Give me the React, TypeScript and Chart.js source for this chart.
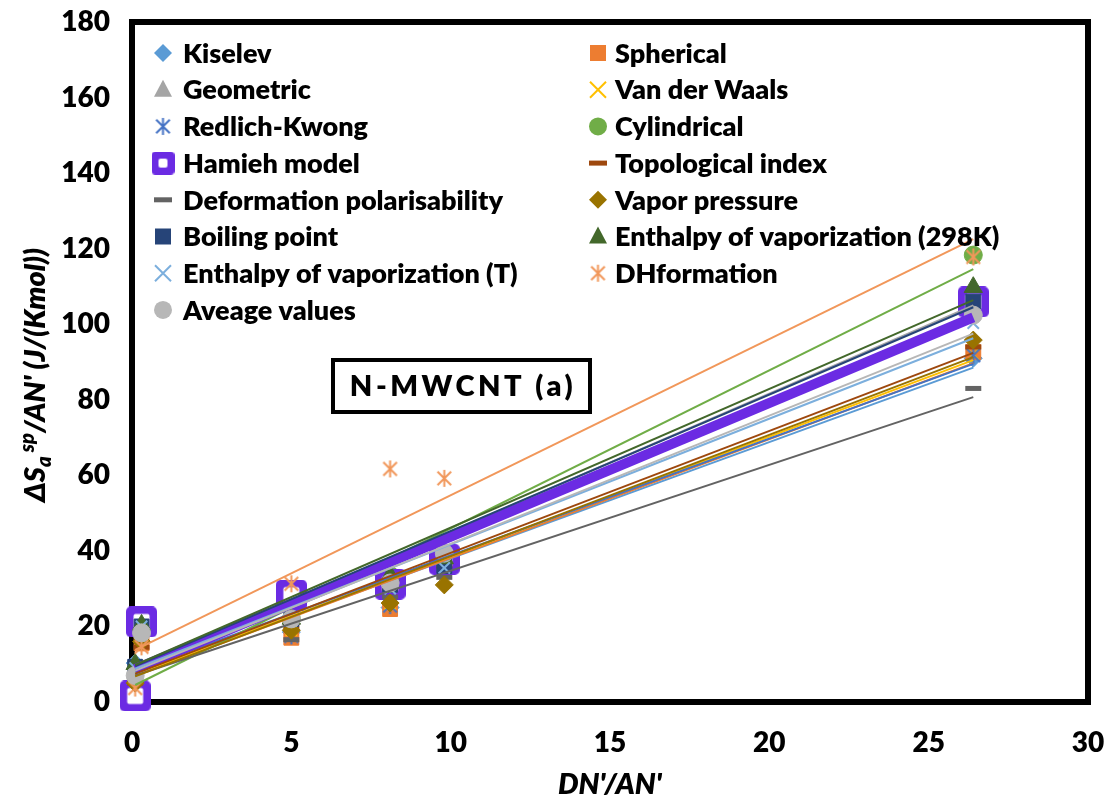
import React, { useEffect, useRef } from 'react';
import { Chart, registerables } from 'chart.js';
Chart.register(...registerables);

// ---------------- DATA ----------------
const xValues = [0.1, 0.3, 5.0, 8.1, 9.8, 26.4];
const xTickValues = [0, 5, 10, 15, 20, 25, 30];
const yTickValues = [0, 20, 40, 60, 80, 100, 120, 140, 160, 180];

const seriesNames = [
  'Kiselev', 'Spherical', 'Geometric', 'Van der Waals', 'Redlich-Kwong', 'Cylindrical',
  'Hamieh model', 'Topological index', 'Deformation polarisability', 'Vapor pressure',
  'Boiling point', 'Enthalpy of vaporization (298K)', 'Enthalpy of vaporization (T)',
  'DHformation', 'Aveage values',
];

const kiselevValues = [10.3, 20.6, 18.5, 25.0, 36.0, 91.0];
const sphericalValues = [3.5, 15.5, 17.0, 24.6, 36.0, 92.6];
const geometricValues = [10.0, 20.0, 22.0, 32.0, 38.0, 106.0];
const vanDerWaalsValues = [4.0, 15.5, 19.0, 26.0, 35.0, 92.0];
const redlichKwongValues = [9.5, 20.0, 17.5, 25.5, 36.0, 91.8];
const cylindricalValues = [2.4, 20.0, 22.0, 33.5, 38.0, 118.3];
const hamiehValues = [1.6, 21.2, 28.3, 31.2, 37.8, 105.9];
const topologicalValues = [5.0, 14.5, 19.6, 30.0, 36.0, 94.0];
const deformationValues = [6.0, 18.0, 16.5, 27.8, 33.0, 83.0];
const vaporPressureValues = [5.0, 16.0, 19.0, 26.2, 31.0, 95.8];
const boilingPointValues = [9.3, 20.0, 22.0, 31.0, 36.0, 106.0];
const enthalpy298Values = [10.0, 20.4, 22.0, 33.5, 38.0, 109.8];
const enthalpyTValues = [9.0, 20.0, 21.5, 30.0, 35.5, 100.3];
const dhFormationValues = [3.7, 14.6, 31.3, 61.7, 59.2, 117.8];
const averageValues = [7.0, 18.3, 22.0, 31.5, 39.4, 102.4];

// linear trend lines: value at first and last x
const trendX = [0.1, 26.4];
const trendStart = [7.5, 7.0, 9.0, 7.2, 8.2, 4.5, 8.7, 7.5, 7.0, 6.8, 9.5, 9.8, 8.8, 13.8, 8.3];
const trendEnd = [88.5, 89.7, 105.0, 90.5, 89.5, 114.6, 101.8, 92.4, 80.7, 91.3, 104.5, 106.4, 96.3, 122.5, 97.5];

const seriesValues = [
  kiselevValues, sphericalValues, geometricValues, vanDerWaalsValues, redlichKwongValues,
  cylindricalValues, hamiehValues, topologicalValues, deformationValues, vaporPressureValues,
  boilingPointValues, enthalpy298Values, enthalpyTValues, dhFormationValues, averageValues,
];

// ---------------- STYLE ----------------
type Shape = 'diamond' | 'square' | 'triangle' | 'x' | 'star' | 'circle' | 'hamieh' | 'dash';
const seriesStyles: { shape: Shape; color: string }[] = [
  { shape: 'diamond', color: '#5B9BD5' },
  { shape: 'square', color: '#ED7D31' },
  { shape: 'triangle', color: '#A5A5A5' },
  { shape: 'x', color: '#FFC000' },
  { shape: 'star', color: '#4472C4' },
  { shape: 'circle', color: '#70AD47' },
  { shape: 'hamieh', color: '#6B2BE3' },
  { shape: 'dash', color: '#9E480E' },
  { shape: 'dash', color: '#636363' },
  { shape: 'diamond', color: '#997300' },
  { shape: 'square', color: '#264478' },
  { shape: 'triangle', color: '#43682B' },
  { shape: 'x', color: '#7CAFDD' },
  { shape: 'star', color: '#F1975A' },
  { shape: 'circle', color: '#B7B7B7' },
];

const FONT = 'Lato, "Open Sans", sans-serif';
const WEIGHT = '800';

function makeStar(color: string, size: number, lw: number) {
  const c = document.createElement('canvas');
  c.width = size;
  c.height = size;
  const g = c.getContext('2d')!;
  g.strokeStyle = color;
  g.lineWidth = lw;
  const h = size / 2;
  const r = h - 1;
  const d = r * 0.8;
  g.beginPath();
  g.moveTo(h, h - r);
  g.lineTo(h, h + r);
  g.moveTo(h - d, h - d);
  g.lineTo(h + d, h + d);
  g.moveTo(h + d, h - d);
  g.lineTo(h - d, h + d);
  g.stroke();
  return c;
}

function makeHamieh(color: string, outer: number, inner: number, radius: number) {
  const c = document.createElement('canvas');
  c.width = outer;
  c.height = outer;
  const g = c.getContext('2d')!;
  g.fillStyle = color;
  g.beginPath();
  g.roundRect(0, 0, outer, outer, radius);
  g.fill();
  g.fillStyle = '#FFFFFF';
  const o = (outer - inner) / 2;
  g.beginPath();
  g.roundRect(o, o, inner, inner, 2);
  g.fill();
  return c;
}

function pointOptions(shape: Shape, color: string) {
  switch (shape) {
    case 'diamond':
      return { pointStyle: 'rectRot', pointRadius: 9, pointBackgroundColor: color, pointBorderColor: color, pointBorderWidth: 1 };
    case 'square':
      return { pointStyle: 'rect', pointRadius: 10.5, pointBackgroundColor: color, pointBorderColor: color, pointBorderWidth: 1 };
    case 'triangle':
      return { pointStyle: 'triangle', pointRadius: 10.5, pointBackgroundColor: color, pointBorderColor: color, pointBorderWidth: 1 };
    case 'x':
      return { pointStyle: 'crossRot', pointRadius: 8, pointBackgroundColor: color, pointBorderColor: color, pointBorderWidth: 2 };
    case 'star':
      return { pointStyle: makeStar(color, 19, 2), pointRadius: 9, pointBackgroundColor: color, pointBorderColor: color };
    case 'circle':
      return { pointStyle: 'circle', pointRadius: 9, pointBackgroundColor: color, pointBorderColor: color, pointBorderWidth: 1 };
    case 'hamieh':
      return { pointStyle: makeHamieh(color, 31, 16, 5), pointRadius: 15, pointBackgroundColor: color, pointBorderColor: color };
    case 'dash':
    default:
      return { pointStyle: 'line', pointRadius: 8, pointBackgroundColor: color, pointBorderColor: color, pointBorderWidth: 5 };
  }
}

function drawLegendMarker(ctx: CanvasRenderingContext2D, shape: Shape, color: string, x: number, y: number) {
  ctx.save();
  ctx.fillStyle = color;
  ctx.strokeStyle = color;
  ctx.beginPath();
  switch (shape) {
    case 'diamond':
      ctx.moveTo(x, y - 9); ctx.lineTo(x + 9, y); ctx.lineTo(x, y + 9); ctx.lineTo(x - 9, y); ctx.closePath(); ctx.fill();
      break;
    case 'square':
      ctx.fillRect(x - 8, y - 8, 16, 16);
      break;
    case 'triangle':
      ctx.moveTo(x, y - 10); ctx.lineTo(x + 9, y + 7); ctx.lineTo(x - 9, y + 7); ctx.closePath(); ctx.fill();
      break;
    case 'x':
      ctx.lineWidth = 2;
      ctx.moveTo(x - 8, y - 8); ctx.lineTo(x + 8, y + 8); ctx.moveTo(x + 8, y - 8); ctx.lineTo(x - 8, y + 8); ctx.stroke();
      break;
    case 'star': {
      const img = makeStar(color, 19, 2);
      ctx.drawImage(img, x - 9.5, y - 9.5);
      break;
    }
    case 'circle':
      ctx.arc(x, y, 9, 0, Math.PI * 2); ctx.fill();
      break;
    case 'hamieh': {
      const img = makeHamieh(color, 23, 9, 4);
      ctx.drawImage(img, x - 11.5, y - 11.5);
      break;
    }
    case 'dash':
      ctx.fillRect(x - 9, y - 2.5, 18, 5);
      break;
  }
  ctx.restore();
}

const decorPlugin = {
  id: 'decor',
  beforeDatasetsDraw(chart: any) {
    const { ctx, chartArea } = chart;
    ctx.save();
    ctx.strokeStyle = '#000000';
    ctx.lineWidth = 6;
    ctx.strokeRect(chartArea.left, chartArea.top, chartArea.right - chartArea.left, chartArea.bottom - chartArea.top);
    ctx.restore();
  },
  afterDatasetsDraw(chart: any) {
    const { ctx, chartArea } = chart;
    // legend (two columns)
    ctx.save();
    ctx.font = `${WEIGHT} 27px ${FONT}`;
    ctx.fillStyle = '#000000';
    ctx.textBaseline = 'middle';
    ctx.textAlign = 'left';
    const rowY0 = 53;
    const rowStep = 36.7;
    seriesNames.forEach((name, i) => {
      const col = i % 2;
      const row = Math.floor(i / 2);
      const y = rowY0 + row * rowStep;
      const mx = col === 0 ? 163 : 598;
      const tx = col === 0 ? 183 : 615;
      drawLegendMarker(ctx, seriesStyles[i].shape, seriesStyles[i].color, mx, y);
      ctx.fillStyle = '#000000';
      ctx.fillText(name, tx, y + 1);
    });
    ctx.restore();

    // annotation box
    ctx.save();
    ctx.fillStyle = '#FFFFFF';
    ctx.fillRect(333, 360, 257, 52);
    ctx.strokeStyle = '#000000';
    ctx.lineWidth = 4;
    ctx.strokeRect(333, 360, 257, 52);
    ctx.fillStyle = '#000000';
    ctx.font = `${WEIGHT} 29px ${FONT}`;
    ctx.textBaseline = 'middle';
    ctx.textAlign = 'center';
    (ctx as any).letterSpacing = '3.5px';
    ctx.fillText('N-MWCNT (a)', 463, 387);
    ctx.restore();

    // x axis title
    ctx.save();
    ctx.fillStyle = '#000000';
    ctx.font = `italic ${WEIGHT} 29px ${FONT}`;
    ctx.textAlign = 'center';
    ctx.textBaseline = 'middle';
    ctx.fillText("DN'/AN'", (chartArea.left + chartArea.right) / 2, 785);
    ctx.restore();

    // y axis title with sub/superscript
    ctx.save();
    ctx.translate(35, 375);
    ctx.rotate(-Math.PI / 2);
    ctx.fillStyle = '#000000';
    ctx.textBaseline = 'alphabetic';
    ctx.textAlign = 'left';
    const big = `italic ${WEIGHT} 29px ${FONT}`;
    const small = `italic ${WEIGHT} 20px ${FONT}`;
    const segs = [
      { t: '\u0394S', f: big, dy: 0 },
      { t: 'a', f: small, dy: 6 },
      { t: ' sp', f: small, dy: -11 },
      { t: "/AN' (J/(Kmol))", f: big, dy: 0 },
    ];
    let total = 0;
    const widths: number[] = [];
    segs.forEach((s) => { ctx.font = s.f; const w = ctx.measureText(s.t).width; widths.push(w); total += w; });
    let px = -total / 2;
    segs.forEach((s, i) => {
      ctx.font = s.f;
      ctx.fillText(s.t, px, 10 + s.dy);
      px += widths[i];
    });
    ctx.restore();
  },
};

export default function App() {
  const ref = useRef<HTMLCanvasElement>(null);
  useEffect(() => {
    document.body.style.margin = '0';
    const canvas = ref.current!;
    const pointSets = seriesValues.map((vals, i) => ({
      label: seriesNames[i],
      data: vals.map((v, j) => ({ x: xValues[j], y: v })),
      showLine: false,
      clip: false as any,
      order: 200 - i,
      ...pointOptions(seriesStyles[i].shape, seriesStyles[i].color),
    }));
    const trendSets = seriesNames.map((name, i) => ({
      label: name + ' trend',
      data: [
        { x: trendX[0], y: trendStart[i] },
        { x: trendX[1], y: trendEnd[i] },
      ],
      showLine: true,
      pointRadius: 0,
      borderColor: seriesStyles[i].color,
      borderWidth: seriesStyles[i].shape === 'hamieh' ? 10 : 2,
      borderCapStyle: 'butt',
      fill: false,
      clip: false as any,
      order: 100 - i,
    }));
    const chart = new Chart(canvas, {
      type: 'scatter',
      data: { datasets: [...pointSets, ...trendSets] as any },
      options: {
        responsive: false,
        animation: false,
        layout: { padding: { left: 0, top: 22, right: 21, bottom: 0 } },
        plugins: { legend: { display: false }, tooltip: { enabled: false } },
        scales: {
          x: {
            type: 'linear',
            min: 0,
            max: 30,
            afterBuildTicks: (scale: any) => { scale.ticks = xTickValues.map((v) => ({ value: v })); },
            afterFit: (scale: any) => {
              scale.height = 99;
              scale.paddingLeft = 0;
              scale.paddingRight = 0;
            },
            grid: { display: false, drawTicks: false, tickLength: 0 },
            border: { display: false },
            ticks: { padding: 24, color: '#000000', font: { family: FONT, size: 28, weight: WEIGHT } },
          },
          y: {
            type: 'linear',
            min: 0,
            max: 180,
            afterBuildTicks: (scale: any) => { scale.ticks = yTickValues.map((v) => ({ value: v })); },
            afterFit: (scale: any) => {
              scale.width = 132;
              scale.paddingTop = 0;
              scale.paddingBottom = 0;
            },
            grid: { display: false, drawTicks: false, tickLength: 0 },
            border: { display: false },
            ticks: { padding: 22, color: '#000000', font: { family: FONT, size: 28, weight: WEIGHT } },
          },
        },
      } as any,
      plugins: [decorPlugin],
    });
    return () => chart.destroy();
  }, []);
  return (
    <div style={{ position: 'absolute', left: 0, top: 0, width: 1109, height: 801, background: '#FFFFFF' }}>
      <canvas ref={ref} width={1109} height={801} style={{ width: 1109, height: 801, display: 'block' }} />
    </div>
  );
}
